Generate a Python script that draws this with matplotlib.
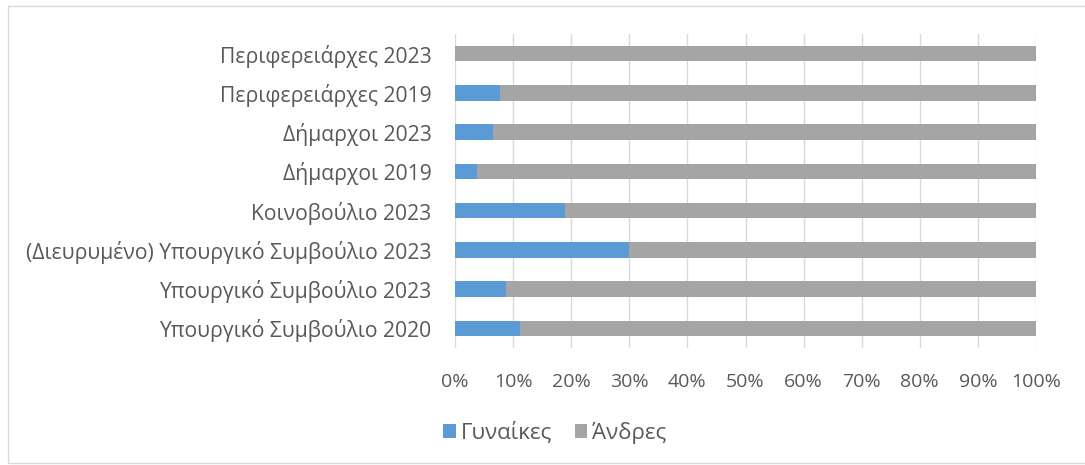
import matplotlib.pyplot as plt
from matplotlib.patches import Rectangle

# κατηγορίες από πάνω προς τα κάτω
katigories = [
    "Περιφερειάρχες 2023",
    "Περιφερειάρχες 2019",
    "Δήμαρχοι 2023",
    "Δήμαρχοι 2019",
    "Κοινοβούλιο 2023",
    "(Διευρυμένο) Υπουργικό Συμβούλιο 2023",
    "Υπουργικό Συμβούλιο 2023",
    "Υπουργικό Συμβούλιο 2020",
]
gynaikes = [0, 7.7, 6.5, 3.8, 19.0, 30.0, 8.7, 11.2]
andres = [100, 92.3, 93.5, 96.2, 81.0, 70.0, 91.3, 88.8]
xticks = [0, 10, 20, 30, 40, 50, 60, 70, 80, 90, 100]

BLUE = "#5B9BD5"
GREY = "#A5A5A5"
TXT = "#595959"

plt.rcParams["font.family"] = ["Open Sans", "DejaVu Sans"]

fig = plt.figure(figsize=(10.85, 4.65), dpi=100)
ax = fig.add_axes([455 / 1085, 1 - 348 / 465, 581 / 1085, 314 / 465])

y = list(range(len(katigories)))
ax.barh(y, gynaikes, height=0.39, color=BLUE, label="Γυναίκες", zorder=3)
ax.barh(y, andres, left=gynaikes, height=0.39, color=GREY, label="Άνδρες", zorder=3)

ax.set_xlim(0, 100)
ax.set_ylim(len(katigories) - 0.5, -0.5)
ax.set_xticks(xticks)
ax.set_xticklabels([f"{t}%" for t in xticks])
ax.set_yticks(y)
ax.set_yticklabels(katigories)
ax.tick_params(axis="x", length=0, pad=18, labelsize=14, labelcolor=TXT)
ax.tick_params(axis="y", length=0, pad=17, labelsize=15.2, labelcolor=TXT)
ax.grid(axis="x", color="#D9D9D9", linewidth=1, zorder=0)
for s in ax.spines.values():
    s.set_visible(False)

fig.legend(loc="center", bbox_to_anchor=(555 / 1085, 1 - 433 / 465), ncol=2,
           frameon=False, fontsize=16, labelcolor=TXT, handlelength=0.55,
           handleheight=0.55, handletextpad=0.25, columnspacing=1.0)

# περίγραμμα περιοχής γραφήματος
fig.patches.append(Rectangle((8 / 1085, 2 / 465), 1.1, 457 / 465,
                             transform=fig.transFigure, fill=False,
                             edgecolor="#D9D9D9", linewidth=1))

fig.savefig("out.png", dpi=100)
